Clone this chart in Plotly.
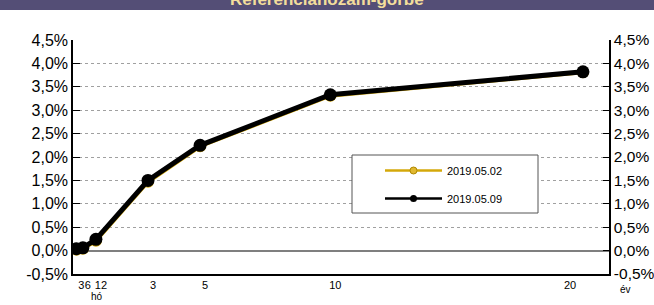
import plotly.graph_objects as go

# Data
maturity_years = [0.25, 0.5, 1, 3, 5, 10, 19.7]
series_names = ["2019.05.02", "2019.05.09"]
yield_0502 = [0.02, 0.04, 0.21, 1.47, 2.23, 3.31, 3.81]
yield_0509 = [0.04, 0.06, 0.24, 1.50, 2.25, 3.33, 3.82]
x_tick_vals = [0.25, 0.5, 1, 3, 5, 10]
x_tick_text = ["3", "6", "12", "3", "5", "10"]
y_tick_vals = [-0.5, 0, 0.5, 1, 1.5, 2, 2.5, 3, 3.5, 4, 4.5]
y_tick_text = ["-0,5%", "0,0%", "0,5%", "1,0%", "1,5%", "2,0%", "2,5%", "3,0%", "3,5%", "4,0%", "4,5%"]
title_text = "Referenciahozam-görbe"

YELLOW = "#d4a80a"
BLACK = "#000000"
FONT = "Liberation Sans, Arial, sans-serif"

PL, PR, PT, PB = 73, 45, 40, 31
PW, PH = 654 - PL - PR, 305 - PT - PB


def px_x(p):
    return (p - PL) / PW


def px_y(p):
    return (305 - PB - p) / PH


fig = go.Figure()

# main traces (no legend)
fig.add_trace(go.Scatter(x=maturity_years, y=yield_0502, mode="lines+markers",
                         line=dict(color=YELLOW, width=4), marker=dict(size=12, color=YELLOW),
                         showlegend=False, hoverinfo="skip"))
fig.add_trace(go.Scatter(x=maturity_years, y=yield_0509, mode="lines+markers",
                         line=dict(color=BLACK, width=5), marker=dict(size=13, color=BLACK),
                         showlegend=False, hoverinfo="skip"))
# legend-only entries
fig.add_trace(go.Scatter(x=[None], y=[None], mode="lines+markers", name=series_names[0],
                         legendgroup="a",
                         line=dict(color=YELLOW, width=2.5), marker=dict(size=7, color="#e0b830",
                         line=dict(color="#b08800", width=1))))
fig.add_trace(go.Scatter(x=[None], y=[None], mode="lines+markers", name=series_names[1],
                         legendgroup="b",
                         line=dict(color=BLACK, width=2.5), marker=dict(size=7, color=BLACK)))
# dummy trace for right axis
fig.add_trace(go.Scatter(x=[None], y=[None], yaxis="y2", showlegend=False, hoverinfo="skip"))

fig.update_layout(
    width=654, height=305,
    margin=dict(l=PL, r=PR, t=PT, b=PB, autoexpand=False),
    paper_bgcolor="white", plot_bgcolor="white",
    font=dict(family=FONT, color="#000000"),
    xaxis=dict(range=[0.12, 20.7], tickvals=x_tick_vals, ticktext=x_tick_text,
               ticklabelshift=5, tickangle=0, tickfont=dict(size=11), automargin=False,
               showgrid=False, zeroline=False, showline=True, linecolor="black", linewidth=1.5,
               ticks=""),
    yaxis=dict(range=[-0.5, 4.5], tickvals=y_tick_vals, ticktext=y_tick_text, automargin=False,
               tickfont=dict(size=16), showgrid=True, gridcolor="#a0a0a0", griddash="dot",
               gridwidth=1, zeroline=True, zerolinecolor="#7f7f7f", zerolinewidth=2,
               showline=True, linecolor="black", linewidth=1.5, ticks="inside",
               ticklen=7, tickcolor="black", mirror=False),
    yaxis2=dict(range=[-0.5, 4.5], tickvals=y_tick_vals, ticktext=y_tick_text, automargin=False,
                overlaying="y", side="right", tickfont=dict(size=15.5), showgrid=False,
                zeroline=False, showline=True, linecolor="black", linewidth=1.5,
                ticks="inside", ticklen=6, tickcolor="black"),
    legend=dict(x=px_x(380), y=px_y(156), xanchor="left", yanchor="top",
                bgcolor="rgba(0,0,0,0)", borderwidth=0,
                font=dict(size=11), itemwidth=57, tracegroupgap=9,
                traceorder="grouped"),
    showlegend=True,
)

# legend frame
fig.add_shape(type="rect", xref="paper", yref="paper", x0=px_x(352), x1=px_x(538),
              y0=px_y(213), y1=px_y(155), fillcolor="white", line=dict(color="#555555", width=1),
              layer="above")

# title band
fig.add_shape(type="rect", xref="paper", yref="paper", x0=-0.2, x1=1.2,
              y0=px_y(10), y1=px_y(-20), fillcolor="#544e76", line=dict(width=0), layer="above")
fig.add_annotation(text="<b>" + title_text + "</b>", xref="paper", yref="paper",
                   x=0.473, y=px_y(11), xanchor="center", yanchor="bottom",
                   showarrow=False, font=dict(size=17, color="#f3de9c", family=FONT))

# axis extras
fig.add_annotation(text="20", x=20, xref="x", y=0, yref="paper", yanchor="top",
                   xshift=-21, yshift=-3, showarrow=False, font=dict(size=11))
fig.add_annotation(text="hó", x=0.5, xref="x", y=0, yref="paper", yanchor="top",
                   xshift=14, yshift=-15, showarrow=False, font=dict(size=10))
fig.add_annotation(text="év", x=1, xref="paper", y=0, yref="paper", yanchor="top",
                   xshift=24, yshift=-8, showarrow=False, font=dict(size=10))

fig.write_html("out.html", config={"displayModeBar": False},
               post_script="document.body.style.margin='0';document.body.style.overflow='hidden';")
